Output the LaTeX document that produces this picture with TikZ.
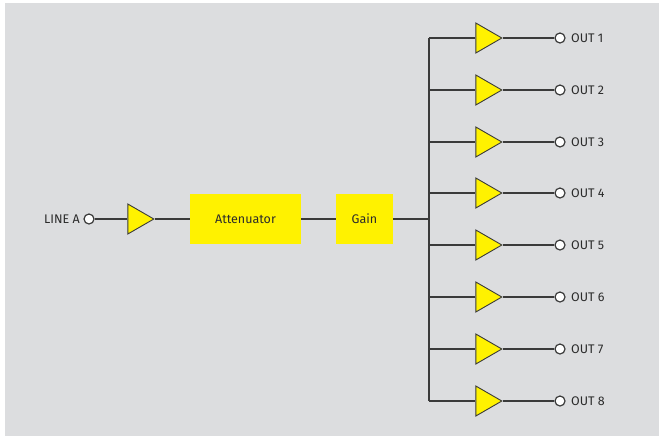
\documentclass[tikz,border=0pt]{standalone}
\usepackage{fontspec}
\setmainfont{Fira Sans}
\usetikzlibrary{shapes.geometric}
\definecolor{panelgray}{HTML}{DCDDDF}
\definecolor{wiregray}{HTML}{3A3A3A}
\definecolor{textgray}{HTML}{2B2B2B}
\definecolor{ampyellow}{HTML}{FFF200}
\tikzset{
  wire/.style={draw=wiregray, line width=1.5pt},
  amp/.style={isosceles triangle, isosceles triangle stretches, shape border rotate=0,
    minimum width=30pt, minimum height=26pt, inner sep=0pt, anchor=apex,
    fill=ampyellow, draw=wiregray, line width=0.9pt},
  block/.style={rectangle, fill=ampyellow, inner sep=0pt, font=\fontsize{12.5}{14}\selectfont, text=textgray},
  jack/.style={circle, fill=white, draw=wiregray, line width=1.2pt, minimum size=10pt, inner sep=0pt},
  jacklabel/.style={font=\fontsize{12.5}{14}\selectfont, text=textgray, inner sep=0pt}
}
\begin{document}
\begin{tikzpicture}[x=1pt,y=-1pt]
\useasboundingbox (0,0) rectangle (660,437);
\fill[panelgray] (5,3) rectangle (659,436);
% input side
\node[jack] (lineA) at (89,219) {};
\node[jacklabel, anchor=east] at (80,219) {LINE A};
\node[amp] (inamp) at (155,219) {};
\node[block, minimum width=111pt, minimum height=50pt] (att) at (245.5,219) {Attenuator};
\node[block, minimum width=57pt, minimum height=50pt] (gain) at (364.5,219) {Gain};
\coordinate (bus) at (429,219);
\draw[wire] (lineA) -- (inamp.west);
\draw[wire] (inamp.apex) -- (att.west);
\draw[wire] (att.east) -- (gain.west);
\draw[wire] (gain.east) -- (bus);
% output bus
\coordinate (bustop) at (429,38);
\coordinate (busbot) at (429,401);
\draw[wire] (bustop) -- (busbot);
\foreach \n/\y in {1/38,2/90,3/142,4/193,5/245,6/297,7/349,8/401}{
  \coordinate (tap\n) at (429,\y);
  \node[amp] (amp\n) at (503,\y) {};
  \node[jack] (out\n) at (560,\y) {};
  \node[jacklabel, anchor=west] at (571,\y) {OUT \n};
  \draw[wire] (tap\n) -- (amp\n.west);
  \draw[wire] (amp\n.apex) -- (out\n);
}
\end{tikzpicture}
\end{document}
